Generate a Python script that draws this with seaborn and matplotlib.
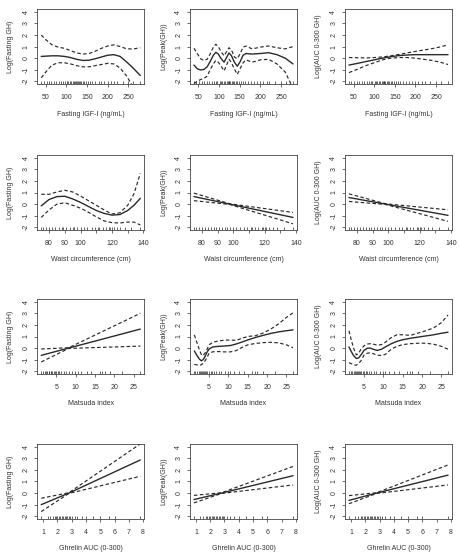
import numpy as np
import seaborn as sns
import matplotlib.pyplot as plt

sns.set_theme(style="white")
plt.rcParams['font.family'] = ['Liberation Sans', 'DejaVu Sans']
plt.rcParams['axes.unicode_minus'] = False

# --- observed x values (rug) ---
igf_obs = [39, 45, 52, 58, 63, 70, 75, 82, 88, 92, 96, 101, 105, 108, 112, 115, 118, 121, 123,
           125, 127, 130, 133, 136, 140, 143, 147, 152, 158, 163, 170, 178, 185, 192, 200, 207,
           215, 222, 236, 250, 262, 279]
waist_obs = [75, 76, 78, 80, 82, 84, 86, 88, 89, 91, 93, 95, 96, 98, 100, 102, 104, 107, 109,
             111, 112, 114, 116, 118, 119, 120, 121, 123, 125, 128, 132, 138]
matsuda_obs = [1.1, 1.5, 2.0, 2.4, 2.7, 3.0, 3.2, 3.5, 3.7, 4.0, 4.3, 4.6, 5.0, 5.4, 5.8, 6.3,
               6.9, 7.5, 8.2, 9.0, 9.8, 10.5, 11.5, 12.8, 14.0, 16.2, 16.8, 17.5, 19.0, 22.0, 26.7]
ghrelin_obs = [0.86, 1.3, 1.5, 1.7, 1.8, 1.9, 2.0, 2.1, 2.2, 2.3, 2.4, 2.5, 2.6, 2.7, 2.8, 2.9,
               3.0, 3.2, 3.4, 3.7, 4.0, 4.5, 5.0, 5.6, 6.0, 7.8]

# --- row 1: fasting IGF-I ---
p11_x = [39, 50, 65, 80, 95, 110, 125, 140, 155, 170, 185, 200, 215, 230, 245, 260, 279]
p11_fit = [0.15, 0.17, 0.2, 0.2, 0.15, 0.05, -0.1, -0.2, -0.18, -0.05, 0.1, 0.25, 0.3, 0.15, -0.3, -0.8, -1.5]
p11_up = [2.0, 1.6, 1.15, 0.95, 0.85, 0.65, 0.45, 0.35, 0.4, 0.6, 0.85, 1.05, 1.15, 1.0, 0.82, 0.78, 0.9]
p11_lo = [-1.7, -1.2, -0.6, -0.4, -0.4, -0.5, -0.65, -0.75, -0.75, -0.65, -0.55, -0.45, -0.5, -0.85, -1.5, -2.4, -3.6]

p12_x = [39, 47, 55, 63, 71, 79, 86, 92, 98, 105, 112, 118, 124, 130, 137, 144, 151, 158, 165,
         180, 200, 220, 240, 260, 279]
p12_fit = [-0.6, -0.92, -1.02, -0.98, -0.75, -0.25, 0.25, 0.5, 0.35, -0.05, -0.35, 0.05, 0.45,
           0.2, -0.35, -0.7, -0.3, 0.25, 0.4, 0.35, 0.4, 0.47, 0.3, 0.0, -0.5]
p12_up = [0.85, 0.4, -0.05, -0.2, -0.1, 0.4, 0.95, 1.2, 1.0, 0.55, 0.2, 0.55, 0.9, 0.7, 0.1,
          -0.05, 0.4, 0.95, 1.05, 0.8, 0.95, 1.05, 0.9, 0.8, 1.0]
p12_lo = [-2.2, -2.0, -1.85, -1.75, -1.55, -0.95, -0.5, -0.2, -0.35, -0.7, -1.1, -0.6, -0.1,
          -0.4, -0.95, -1.4, -0.9, -0.4, -0.15, -0.35, -0.15, -0.1, -0.5, -1.2, -2.6]

p13_x = [39, 60, 80, 100, 120, 140, 160, 180, 200, 220, 240, 260, 279]
p13_fit = [-0.6, -0.45, -0.3, -0.15, 0.0, 0.12, 0.22, 0.27, 0.3, 0.3, 0.3, 0.3, 0.3]
p13_up = [0.05, 0.03, 0.02, 0.05, 0.1, 0.2, 0.32, 0.45, 0.58, 0.7, 0.82, 0.97, 1.15]
p13_lo = [-1.25, -0.95, -0.65, -0.4, -0.15, 0.0, 0.05, 0.05, 0.0, -0.1, -0.2, -0.35, -0.55]

# --- row 2: waist circumference ---
p21_x = [75, 80, 85, 90, 95, 100, 105, 110, 115, 120, 125, 130, 134, 138]
p21_fit = [-0.15, 0.4, 0.65, 0.68, 0.45, 0.15, -0.2, -0.55, -0.8, -0.95, -0.9, -0.55, -0.1, 0.5]
p21_up = [0.85, 0.85, 1.05, 1.2, 1.05, 0.7, 0.3, -0.1, -0.5, -0.85, -0.75, -0.1, 0.9, 2.65]
p21_lo = [-1.15, -0.5, 0.0, 0.12, -0.1, -0.35, -0.7, -1.1, -1.45, -1.6, -1.63, -1.55, -1.55, -1.8]

p22_x = [75, 97.8, 138]
p22_fit = [0.65, 0.0, -1.15]
p22_up = [0.95, 0.03, -0.72]
p22_lo = [0.3, -0.03, -1.7]

p23_x = [75, 98.3, 138]
p23_fit = [0.57, 0.0, -0.97]
p23_up = [0.89, 0.03, -0.49]
p23_lo = [0.23, -0.03, -1.49]

# --- row 3: Matsuda index ---
p31_x = [1.1, 8.2, 26.7]
p31_fit = [-0.63, 0.0, 1.64]
p31_up = [-0.08, 0.03, 3.0]
p31_lo = [-1.2, -0.03, 0.17]

p32_x = [1.2, 1.8, 2.5, 3.0, 3.5, 4.0, 4.5, 5.0, 6.0, 7.5, 9.0, 10.5, 12.0, 13.5, 15.0, 17.0,
         19.0, 21.0, 23.0, 25.0, 26.7]
p32_fit = [-0.25, -0.6, -0.95, -1.1, -1.0, -0.7, -0.35, -0.08, 0.1, 0.15, 0.18, 0.22, 0.35,
           0.52, 0.7, 0.92, 1.1, 1.27, 1.4, 1.5, 1.57]
p32_up = [1.14, 0.55, -0.14, -0.55, -0.65, -0.4, -0.1, 0.29, 0.5, 0.62, 0.68, 0.7, 0.66, 0.85,
          1.0, 1.07, 1.3, 1.65, 2.1, 2.65, 3.05]
p32_lo = [-1.4, -1.45, -1.5, -1.45, -1.3, -1.1, -0.8, -0.45, -0.32, -0.3, -0.33, -0.33, -0.22,
          0.05, 0.28, 0.4, 0.47, 0.5, 0.45, 0.28, 0.03]

p33_x = [1.1, 1.7, 2.3, 3.0, 3.6, 4.2, 5.0, 5.8, 6.6, 7.5, 8.4, 9.5, 10.5, 12.0, 13.5, 15.0,
         17.0, 19.0, 21.0, 23.0, 25.0, 26.7]
p33_fit = [0.1, -0.3, -0.65, -0.9, -0.85, -0.6, -0.2, -0.02, 0.0, -0.12, -0.2, -0.1, 0.1, 0.37,
           0.58, 0.72, 0.85, 0.95, 1.05, 1.15, 1.28, 1.37]
p33_up = [1.5, 0.7, 0.0, -0.6, -0.45, -0.1, 0.2, 0.35, 0.38, 0.33, 0.25, 0.3, 0.5, 0.9, 1.15,
          1.15, 1.1, 1.3, 1.5, 1.75, 2.2, 2.86]
p33_lo = [-1.26, -1.35, -1.43, -1.49, -1.3, -1.1, -0.6, -0.45, -0.4, -0.5, -0.62, -0.63, -0.55,
          -0.1, 0.15, 0.3, 0.38, 0.42, 0.42, 0.33, 0.15, -0.1]

# --- row 4: ghrelin AUC ---
p41_x = [0.86, 2.8, 7.8]
p41_fit = [-1.0, 0.0, 2.86]
p41_up = [-0.45, 0.03, 4.25]
p41_lo = [-1.6, -0.03, 1.45]

p42_x = [0.86, 2.8, 7.8]
p42_fit = [-0.56, 0.0, 1.5]
p42_up = [-0.2, 0.03, 2.3]
p42_lo = [-0.85, -0.03, 0.7]

p43_x = [0.86, 2.8, 7.8]
p43_fit = [-0.63, 0.0, 1.55]
p43_up = [-0.22, 0.03, 2.43]
p43_lo = [-0.92, -0.03, 0.7]

ylabels = ["Log(Fasting GH)", "Log(Peak(GH))", "Log(AUC 0-300 GH)"]
xlabels = ["Fasting IGF-I (ng/mL)", "Waist circumference (cm)", "Matsuda index", "Ghrelin AUC (0-300)"]
xticks = [[50, 100, 150, 200, 250],
          [80, 90, 100, 110, 120, 130, 140],
          [5, 10, 15, 20, 25],
          [1, 2, 3, 4, 5, 6, 7, 8]]
xticklabels = [["50", "100", "150", "200", "250"],
               ["80", "90", "100", "", "120", "", "140"],
               ["5", "10", "15", "20", "25"],
               ["1", "2", "3", "4", "5", "6", "7", "8"]]
row_obs = [igf_obs, waist_obs, matsuda_obs, ghrelin_obs]

panels = [
    [(p11_x, p11_fit, p11_up, p11_lo), (p12_x, p12_fit, p12_up, p12_lo), (p13_x, p13_fit, p13_up, p13_lo)],
    [(p21_x, p21_fit, p21_up, p21_lo), (p22_x, p22_fit, p22_up, p22_lo), (p23_x, p23_fit, p23_up, p23_lo)],
    [(p31_x, p31_fit, p31_up, p31_lo), (p32_x, p32_fit, p32_up, p32_lo), (p33_x, p33_fit, p33_up, p33_lo)],
    [(p41_x, p41_fit, p41_up, p41_lo), (p42_x, p42_fit, p42_up, p42_lo), (p43_x, p43_fit, p43_up, p43_lo)],
]

ink = "#2a2a2a"
text_col = "#333333"
fig = plt.figure(figsize=(4.6, 5.53), dpi=100)
fig.patch.set_facecolor("white")

col_left = [0.081, 0.413, 0.750]
row_bottom = [0.848, 0.584, 0.3237, 0.0615]
w, h = 0.2326, 0.1356

for r in range(4):
    obs = row_obs[r]
    lo_x, hi_x = min(obs), max(obs)
    pad = 0.04 * (hi_x - lo_x)
    for c in range(3):
        ax = fig.add_axes([col_left[c], row_bottom[r], w, h])
        x, fit, up, lo = panels[r][c]
        sns.lineplot(x=x, y=fit, ax=ax, color=ink, linewidth=1.0, estimator=None, sort=False)
        sns.lineplot(x=x, y=up, ax=ax, color=ink, linewidth=0.85, estimator=None, sort=False,
                     linestyle=(0, (3, 2)))
        sns.lineplot(x=x, y=lo, ax=ax, color=ink, linewidth=0.85, estimator=None, sort=False,
                     linestyle=(0, (3, 2)))
        sns.rugplot(x=obs, ax=ax, height=0.04, color=ink, linewidth=0.5, expand_margins=False)
        ax.set_xlim(lo_x - pad, hi_x + pad)
        ax.set_ylim(-2.24, 4.24)
        ax.set_xticks(xticks[r])
        ax.set_xticklabels(xticklabels[r])
        ax.set_yticks([-2, -1, 0, 1, 2, 3, 4])
        ax.set_yticklabels(["-2", "-1", "0", "1", "2", "3", "4"], rotation=90, va="center")
        ax.tick_params(axis="both", direction="out", length=2.5, width=0.5, colors=text_col,
                       labelsize=5.0, bottom=True, left=True)
        ax.tick_params(axis="x", pad=4.5)
        ax.tick_params(axis="y", pad=3)
        for s in ax.spines.values():
            s.set_visible(True)
            s.set_color("#444444")
            s.set_linewidth(0.6)
        ax.set_xlabel(xlabels[r], fontsize=5.0, color=text_col, labelpad=7)
        ax.set_ylabel(ylabels[c], fontsize=5.0, color=text_col, labelpad=6)
        ax.grid(False)

fig.savefig("out.png", dpi=100, facecolor="white")
